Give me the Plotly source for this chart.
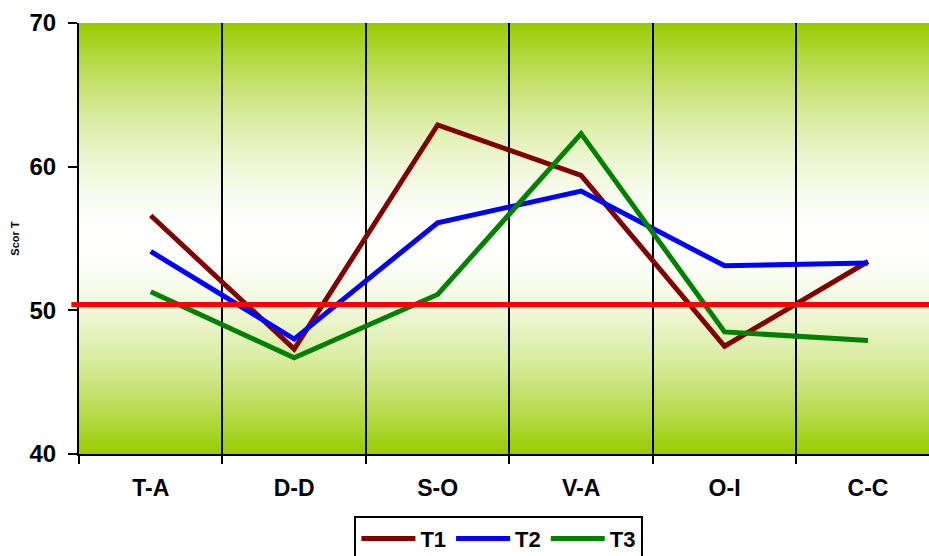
import plotly.graph_objects as go

categories = ["T-A", "D-D", "S-O", "V-A", "O-I", "C-C"]
t1 = [56.6, 47.3, 62.9, 59.4, 47.5, 53.4]
t2 = [54.1, 48.0, 56.1, 58.3, 53.1, 53.3]
t3 = [51.3, 46.7, 51.1, 62.3, 48.5, 47.9]
reference_value = 50.4
y_ticks = [40, 50, 60, 70]

FONT = "Liberation Sans, Arial, sans-serif"
x_idx = list(range(len(categories)))

fig = go.Figure()
series = [("T1", t1, "#800000"), ("T2", t2, "#0000FF"), ("T3", t3, "#008000")]
for name, vals, col in series:
    fig.add_trace(go.Scatter(x=x_idx, y=vals, name=name, mode="lines",
                             line=dict(color=col, width=5)))

# gradient background: green at edges, white at centre (nested rectangles)
ymin, ymax = 40, 70
centre = (ymin + ymax) / 2
half = (ymax - ymin) / 2
nb = 120
green = (153, 204, 0)
white = (255, 255, 255)
shapes = []
for i in range(nb):
    frac = 1 - i / nb          # 1 = full range (green), ->0 = centre (white)
    t = frac ** 1.7
    c = tuple(int(round(white[k] + (green[k] - white[k]) * t)) for k in range(3))
    shapes.append(dict(type="rect", xref="paper", yref="y", x0=0, x1=1,
                       y0=centre - half * frac, y1=centre + half * frac,
                       fillcolor="rgb(%d,%d,%d)" % c,
                       line=dict(width=0), layer="below"))
# reference line
shapes.append(dict(type="line", xref="paper", yref="y", x0=-0.009, x1=1,
                   y0=reference_value, y1=reference_value,
                   line=dict(color="#FF0000", width=5), layer="above"))

fig.update_layout(
    width=929, height=556,
    margin=dict(l=79, r=0, t=23, b=102, autoexpand=False),
    paper_bgcolor="white", plot_bgcolor="white",
    font=dict(family=FONT, color="black"),
    shapes=shapes,
    showlegend=True,
    legend=dict(orientation="h", x=0.494, xanchor="center", y=-0.143, yanchor="top",
                bordercolor="black", borderwidth=2, bgcolor="white",
                font=dict(family=FONT, size=22, weight="bold"),
                itemwidth=54, tracegroupgap=0),
    xaxis=dict(range=[-0.5, 5.425], tickvals=x_idx, ticktext=categories,
               ticks="", showgrid=False, zeroline=False,
               showline=True, linecolor="black", linewidth=2,
               tickfont=dict(family=FONT, size=23, weight="bold"),
               ticklabelstandoff=12,
               minor=dict(tickvals=[-0.5, 0.5, 1.5, 2.5, 3.5, 4.5],
                          ticks="outside", ticklen=8, tickcolor="black", tickwidth=2,
                          showgrid=True, gridcolor="black", gridwidth=1.5)),
    yaxis=dict(range=[ymin, ymax], tickvals=y_ticks, ticks="outside", ticklen=9,
               tickcolor="black", tickwidth=2, showgrid=False, zeroline=False,
               showline=True, linecolor="black", linewidth=2,
               tickfont=dict(family=FONT, size=24, weight="bold"),
               ticklabelstandoff=7,
               title=dict(text="Scor T", font=dict(family=FONT, size=11, weight="bold"),
                          standoff=8)),
)

fig.write_html("out.html", config={"displayModeBar": False},
               post_script="document.body.style.margin='0px';document.body.style.overflow='hidden';")
